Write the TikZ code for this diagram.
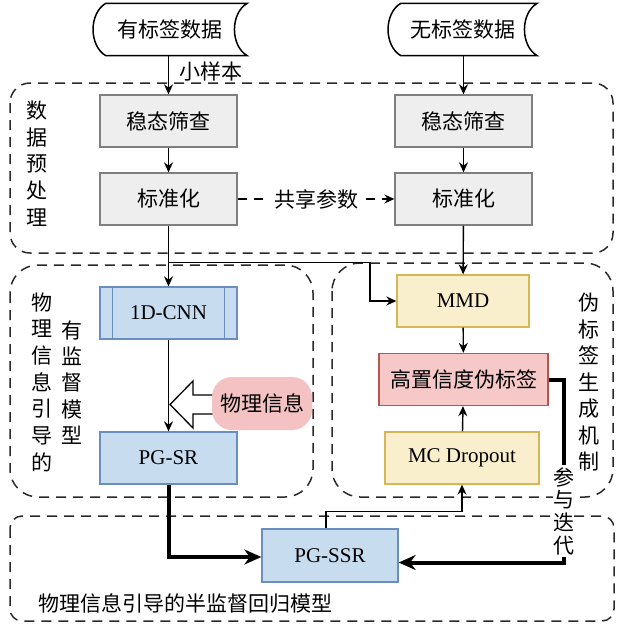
\documentclass[tikz,border=0pt]{standalone}
\usepackage{fontspec}
\setmainfont{Liberation Serif}
\newfontfamily\cjk{Noto Sans CJK SC}
\usetikzlibrary{arrows.meta,calc}
\definecolor{grayfill}{HTML}{EEEEEE}
\definecolor{graydraw}{HTML}{7F7F7F}
\definecolor{bluefill}{HTML}{C8DCF0}
\definecolor{bluedraw}{HTML}{6C8EBF}
\definecolor{yelfill}{HTML}{FAEFCC}
\definecolor{yeldraw}{HTML}{D6B656}
\definecolor{redfill}{HTML}{F6C8C8}
\definecolor{reddraw}{HTML}{B85450}
\definecolor{physfill}{HTML}{F4C2C2}
\definecolor{dashcol}{HTML}{2A2A2A}
\begin{document}
\begin{tikzpicture}[x=1pt,y=-1pt,
  cjkf/.style={font=\cjk\fontsize{21}{26.5}\selectfont},
  latf/.style={font=\fontsize{21}{24}\selectfont},
  box/.style={draw, line width=1.3pt, minimum height=52pt, inner sep=0pt},
  graybox/.style={box, fill=grayfill, draw=graydraw, minimum width=137pt, cjkf},
  bluebox/.style={box, fill=bluefill, draw=bluedraw, latf},
  yelbox/.style={box, fill=yelfill, draw=yeldraw, latf},
  redbox/.style={box, fill=redfill, draw=reddraw, cjkf},
  docnode/.style={cjkf, minimum height=52pt, inner sep=0pt},
  docshape/.style={line width=1.5pt},
  arr/.style={-{Stealth[length=10pt,width=9pt]}, line width=1.4pt},
  thickarr/.style={-{Stealth[length=17pt,width=15pt]}, line width=4pt},
  grp/.style={draw=dashcol, line width=1.5pt, dash pattern=on 10pt off 7pt},
  vtext/.style={align=center, inner sep=0pt},
]
\useasboundingbox (0,0) rectangle (616,626);

% group frames
\draw[grp, rounded corners=20pt] (10,83) rectangle (613,253);
\draw[grp, rounded corners=28pt] (10,265) rectangle (313,497);
\draw[grp, rounded corners=28pt] (332,263) rectangle (613,497);
\draw[grp, rounded corners=12pt] (10,516) rectangle (614,621);

% data sources
\node[docnode, minimum width=154pt] (d1) at (170,29.5) {有标签数据};
\node[docnode, minimum width=149pt] (d2) at (462.5,29.5) {无标签数据};
\foreach \d in {d1,d2}{
  \draw[docshape] ([xshift=13pt]\d.north west) -- (\d.north east)
    .. controls ([xshift=-17pt,yshift=-10pt]\d.north east) and ([xshift=-17pt,yshift=10pt]\d.south east) .. (\d.south east)
    -- ([xshift=13pt]\d.south west)
    .. controls ([xshift=-4pt,yshift=10pt]\d.south west) and ([xshift=-4pt,yshift=-10pt]\d.north west) .. ([xshift=13pt]\d.north west) -- cycle;
}

% preprocessing
\node[graybox] (l1) at (168.5,121) {稳态筛查};
\node[graybox] (l2) at (168.5,199) {标准化};
\node[graybox] (r1) at (463.5,121) {稳态筛查};
\node[graybox] (r2) at (463.5,199) {标准化};

% supervised
\node[bluebox, minimum width=137pt] (cnn) at (168.5,313) {1D-CNN};
\draw[bluedraw, line width=1.3pt] ([xshift=13pt]cnn.north west) -- ([xshift=13pt]cnn.south west);
\draw[bluedraw, line width=1.3pt] ([xshift=-13pt]cnn.north east) -- ([xshift=-13pt]cnn.south east);
\node[bluebox, minimum width=137pt] (pgsr) at (168.5,458) {PG-SR};

% pseudo labels
\node[yelbox, minimum width=132pt] (mmd) at (463,301) {MMD};
\node[redbox, minimum width=169pt] (hc) at (463.5,379.5) {高置信度伪标签};
\node[yelbox, minimum width=154pt] (mc) at (462,458) {MC Dropout};

% semi-supervised
\node[bluebox, minimum width=136pt, minimum height=53pt] (pgssr) at (330,555.5) {PG-SSR};

% connectors
\draw[arr] (d1.south -| l1.north) -- node[cjkf, right=10pt, pos=0.4, inner sep=0pt] (lbsmall) {小样本} (l1.north);
\draw[arr] (d2.south -| r1.north) -- (r1.north);
\draw[arr] (l1) -- (l2);
\draw[arr] (r1) -- (r2);
\draw[arr, dash pattern=on 9pt off 7pt] (l2) -- node[cjkf, fill=white, inner sep=4pt] (lbshare) {共享参数} (r2);
\draw[arr] (l2) -- (cnn);
\coordinate (br) at ([yshift=-37pt]l2.south);
\draw[arr] (br) -- ++(201.5,0) |- (mmd.west);
\draw[arr] (r2) -- (mmd);
\draw[arr] (mmd) -- (hc);
\draw[arr] (mc) -- (hc);
\draw[arr] (cnn) -- (pgsr);

% hollow arrow for physical information
\draw[line width=1.3pt, fill=white] (218,395) -- (193,395) -- (193,381) -- (170,404.5) -- (193,428) -- (193,414) -- (218,414);
\node[fill=physfill, rounded corners=20pt, minimum width=100pt, minimum height=53pt, cjkf, inner sep=0pt] (phys) at (262,403.5) {物理信息};

\draw[thickarr] (pgsr.south) |- ([yshift=-1.5pt]pgssr.west);
\draw[arr] ([xshift=-4pt]pgssr.north) -- ++(0,-17) -| (mc.south);
\draw[thickarr] (hc.east) -- ++(15,0) |- node[pos=0.36, vtext, fill=white, inner ysep=2pt, font=\cjk\fontsize{21}{22.7}\selectfont] (lbiter) {参\\与\\迭\\代} ([yshift=-7pt]pgssr.east);

% vertical titles
\node[vtext, font=\cjk\fontsize{21}{26.75}\selectfont] (t1) at (37,163.5) {数\\据\\预\\处\\理};
\node[vtext, font=\cjk\fontsize{21}{26.7}\selectfont] (t2) at (42,382) {物\\理\\信\\息\\引\\导\\的};
\node[vtext, font=\cjk\fontsize{21}{26.25}\selectfont] (t3) at (72,382.5) {有\\监\\督\\模\\型};
\node[vtext, font=\cjk\fontsize{21}{26.5}\selectfont] (t4) at (589,382.5) {伪\\标\\签\\生\\成\\机\\制};
\node[cjkf, inner sep=0pt] (t6) at (185,603) {物理信息引导的半监督回归模型};
\end{tikzpicture}
\end{document}
